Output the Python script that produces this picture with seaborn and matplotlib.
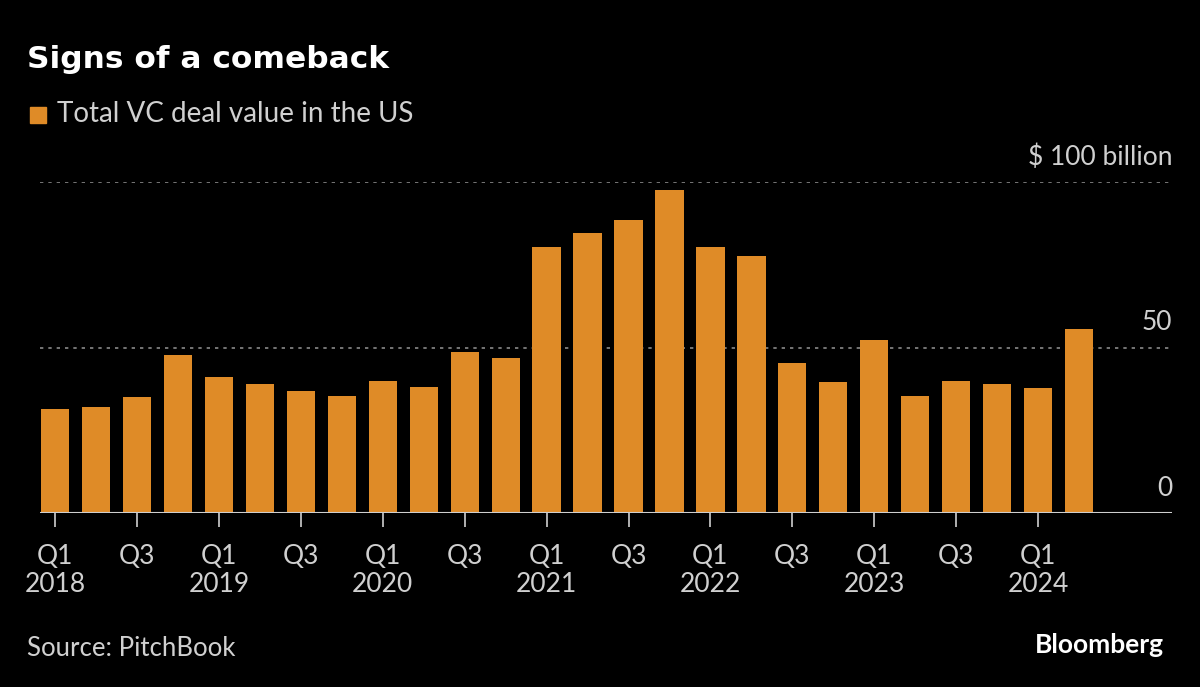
import matplotlib
matplotlib.use("Agg")
import matplotlib.pyplot as plt
import seaborn as sns
import pandas as pd

quarters = ["Q1 2018", "Q2 2018", "Q3 2018", "Q4 2018",
            "Q1 2019", "Q2 2019", "Q3 2019", "Q4 2019",
            "Q1 2020", "Q2 2020", "Q3 2020", "Q4 2020",
            "Q1 2021", "Q2 2021", "Q3 2021", "Q4 2021",
            "Q1 2022", "Q2 2022", "Q3 2022", "Q4 2022",
            "Q1 2023", "Q2 2023", "Q3 2023", "Q4 2023",
            "Q1 2024", "Q2 2024"]
deal_value = [31.4, 32.0, 35.0, 47.7,
              41.1, 39.0, 36.9, 35.3,
              39.9, 38.1, 48.6, 46.8,
              80.4, 84.6, 88.5, 97.6,
              80.4, 77.6, 45.3, 39.6,
              52.3, 35.3, 39.9, 39.0,
              37.8, 55.6]
tick_labels = ["Q1\n2018", "Q3", "Q1\n2019", "Q3", "Q1\n2020", "Q3", "Q1\n2021",
               "Q3", "Q1\n2022", "Q3", "Q1\n2023", "Q3", "Q1\n2024"]
y_ticks = [0, 50, 100]
y_tick_labels = ["0", "50", "$ 100 billion"]

BG = "#000000"
BAR = "#DF8B27"
TXT = "#D0D0D0"
FONT = ["Lato", "DejaVu Sans"]

sns.set_style("dark")
plt.rcParams["font.family"] = FONT

df = pd.DataFrame({"quarter": quarters, "value": deal_value})

fig = plt.figure(figsize=(12, 6.87), dpi=100, facecolor=BG)
W, H = 1200, 687
ax = fig.add_axes([40 / W, (H - 513) / H, 1132 / W, 331 / H])
ax.set_facecolor(BG)

sns.barplot(data=df, x="quarter", y="value", color=BAR, width=0.69,
            saturation=1, ax=ax, edgecolor="none")

ax.set_xlim(-0.37, 27.27)
ax.set_ylim(0, 100)
for s in ax.spines.values():
    s.set_visible(False)
ax.grid(False)

# gridlines
for v in y_ticks[1:]:
    ax.axhline(v, color="#8a8a8a", lw=1.2, ls=(0, (2, 3)), zorder=0)
ax.axhline(0, color="#cfcfcf", lw=1.5, zorder=3)

# y labels above gridlines, right-aligned
ax.set_yticks([])
for v, lab in zip(y_ticks, y_tick_labels):
    ax.annotate(lab, xy=(1, v), xycoords=("axes fraction", "data"),
                xytext=(0, 17), textcoords="offset pixels",
                ha="right", va="baseline", color=TXT, fontsize=19)

ax.set_xticks(range(0, len(quarters), 2))
ax.set_xticklabels(tick_labels, color=TXT, fontsize=19, linespacing=1.15)
ax.tick_params(axis="x", length=10, width=1.2, color="#cfcfcf", pad=12,
               direction="out")
ax.xaxis.set_ticks_position("bottom")
ax.set_xlabel("")
ax.set_ylabel("")

fig.text(27 / W, 1 - 59 / H, "Signs of a comeback", color="white",
         fontsize=22.5, fontweight="bold", family="DejaVu Sans",
         va="center", ha="left")
fig.patches.append(plt.Rectangle((30 / W, 1 - 123 / H), 16 / W, 16 / H,
                                 transform=fig.transFigure, color=BAR))
fig.text(57 / W, 1 - 114 / H, "Total VC deal value in the US", color=TXT,
         fontsize=20, va="center", ha="left")
fig.text(27 / W, 1 - 648 / H, "Source: PitchBook", color=TXT,
         fontsize=18.5, va="center", ha="left")
fig.text(1164 / W, 1 - 645 / H, "Bloomberg", color="white",
         fontsize=19, fontweight="bold", va="center", ha="right")

fig.savefig("out.png", dpi=100, facecolor=BG)
